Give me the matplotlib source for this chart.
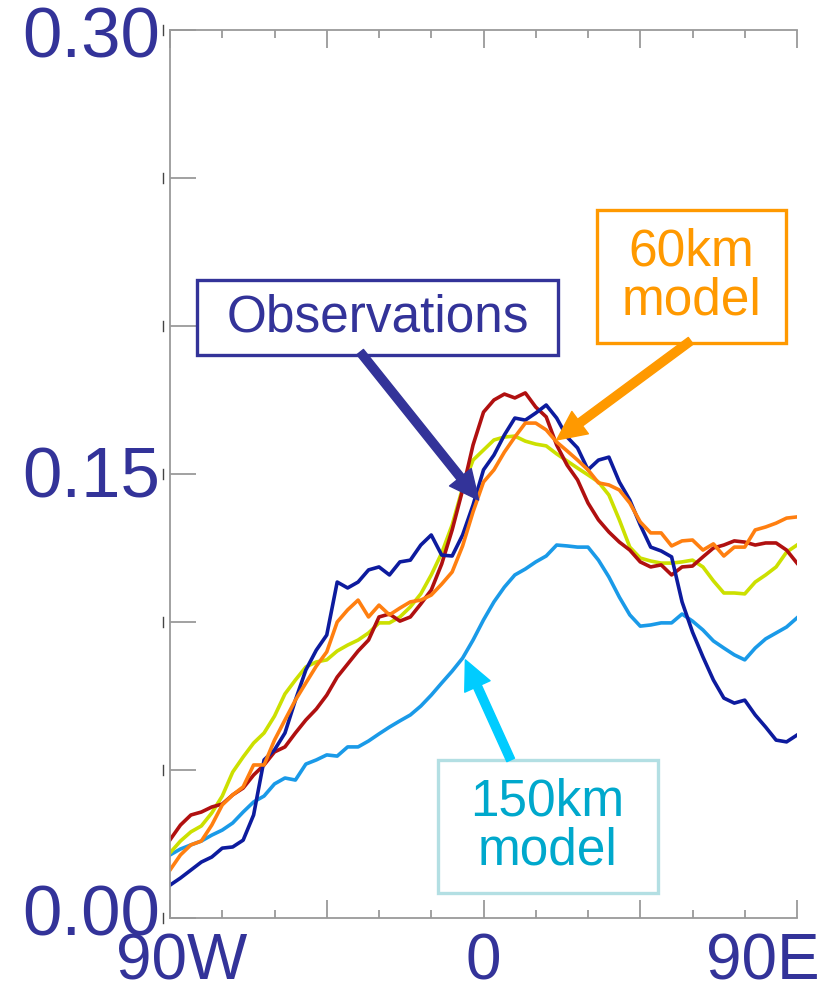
import numpy as np
import matplotlib.pyplot as plt
from matplotlib.patches import Rectangle, FancyArrowPatch

plt.rcParams['font.family'] = ['Liberation Sans', 'DejaVu Sans']

# longitude grid (degrees, west negative), 3 degree steps
lon = np.arange(-90, 91, 3)

obs = [0.0111, 0.0135, 0.0162, 0.0189, 0.0206, 0.0236, 0.0240, 0.0263, 0.0348, 0.0534,
       0.0568, 0.0625, 0.0736, 0.0838, 0.0905, 0.0956, 0.1135, 0.1115, 0.1135, 0.1176,
       0.1186, 0.1159, 0.1203, 0.1209, 0.1260, 0.1294, 0.1226, 0.1223, 0.1294, 0.1395,
       0.1514, 0.1564, 0.1632, 0.1689, 0.1682, 0.1706, 0.1733, 0.1689, 0.1625, 0.1588,
       0.1514, 0.1547, 0.1557, 0.1473, 0.1412, 0.1328, 0.1253, 0.1240, 0.1220, 0.1068,
       0.0966, 0.0882, 0.0804, 0.0743, 0.0726, 0.0736, 0.0686, 0.0645, 0.0601, 0.0595,
       0.0618]

km60 = [0.0162, 0.0213, 0.0247, 0.0260, 0.0314, 0.0382, 0.0416, 0.0443, 0.0517, 0.0517,
        0.0601, 0.0669, 0.0736, 0.0794, 0.0851, 0.0899, 0.1000, 0.1041, 0.1074, 0.1017,
        0.1057, 0.1024, 0.1047, 0.1068, 0.1074, 0.1091, 0.1128, 0.1169, 0.1257, 0.1372,
        0.1473, 0.1514, 0.1574, 0.1625, 0.1672, 0.1672, 0.1649, 0.1608, 0.1578, 0.1547,
        0.1514, 0.1470, 0.1463, 0.1446, 0.1402, 0.1338, 0.1301, 0.1301, 0.1257, 0.1274,
        0.1277, 0.1243, 0.1264, 0.1223, 0.1253, 0.1253, 0.1311, 0.1321, 0.1334, 0.1351,
        0.1355]

km150 = [0.0213, 0.0233, 0.0247, 0.0260, 0.0280, 0.0297, 0.0321, 0.0358, 0.0392, 0.0412,
         0.0453, 0.0473, 0.0466, 0.0520, 0.0534, 0.0551, 0.0547, 0.0578, 0.0578, 0.0598,
         0.0622, 0.0645, 0.0666, 0.0686, 0.0716, 0.0753, 0.0794, 0.0834, 0.0878, 0.0939,
         0.1007, 0.1068, 0.1118, 0.1159, 0.1179, 0.1203, 0.1223, 0.1260, 0.1257, 0.1253,
         0.1253, 0.1209, 0.1152, 0.1084, 0.1024, 0.0986, 0.0990, 0.0997, 0.0997, 0.1027,
         0.1003, 0.0973, 0.0936, 0.0912, 0.0889, 0.0872, 0.0912, 0.0943, 0.0963, 0.0983,
         0.1014]

run_red = [0.0264, 0.0314, 0.0348, 0.0358, 0.0375, 0.0385, 0.0416, 0.0439, 0.0483, 0.0517,
           0.0561, 0.0578, 0.0625, 0.0669, 0.0706, 0.0753, 0.0814, 0.0858, 0.0902, 0.0939,
           0.1017, 0.1027, 0.1003, 0.1017, 0.1061, 0.1108, 0.1196, 0.1311, 0.1446, 0.1598,
           0.1709, 0.1750, 0.1770, 0.1757, 0.1774, 0.1726, 0.1693, 0.1598, 0.1530, 0.1480,
           0.1402, 0.1345, 0.1304, 0.1270, 0.1243, 0.1203, 0.1186, 0.1193, 0.1159, 0.1186,
           0.1189, 0.1220, 0.1250, 0.1260, 0.1274, 0.1270, 0.1260, 0.1267, 0.1267, 0.1243,
           0.1199]

run_yellow = [0.0220, 0.0260, 0.0291, 0.0311, 0.0355, 0.0412, 0.0493, 0.0544, 0.0591, 0.0625,
              0.0682, 0.0757, 0.0804, 0.0848, 0.0865, 0.0872, 0.0902, 0.0922, 0.0939, 0.0963,
              0.0997, 0.0997, 0.1017, 0.1051, 0.1095, 0.1159, 0.1233, 0.1328, 0.1453, 0.1547,
              0.1581, 0.1615, 0.1625, 0.1628, 0.1611, 0.1601, 0.1595, 0.1568, 0.1544, 0.1520,
              0.1497, 0.1473, 0.1429, 0.1345, 0.1253, 0.1216, 0.1206, 0.1199, 0.1199, 0.1203,
              0.1209, 0.1186, 0.1139, 0.1098, 0.1098, 0.1095, 0.1135, 0.1159, 0.1186, 0.1236,
              0.1260]

y_ticklabels = ['0.30', '0.15', '0.00']
x_ticklabels = ['90W', '0', '90E']

navy = '#333399'
W, H = 831, 993

fig = plt.figure(figsize=(W / 100, H / 100), dpi=100)
ax = fig.add_axes([170 / W, 1 - 918 / H, (797 - 170) / W, (918 - 30) / H])

lw = 2.6
ax.plot(lon, km150, color='#1a9ae8', lw=lw)
ax.plot(lon, run_yellow, color='#cce000', lw=lw)
ax.plot(lon, run_red, color='#b01010', lw=lw)
ax.plot(lon, obs, color='#0d1b9e', lw=lw)
ax.plot(lon, km60, color='#ff7f10', lw=lw)

ax.set_xlim(-90, 90)
ax.set_ylim(0, 0.30)

grey = '#9a9a9a'
for side in ['left', 'bottom', 'top']:
    ax.spines[side].set_color(grey)
    ax.spines[side].set_linewidth(1.3)
ax.spines['right'].set_visible(False)

ax.set_yticks(np.arange(0, 0.301, 0.05))
ax.set_xticks(np.arange(-90, 91, 45))
ax.set_xticks(np.arange(-90, 91, 15), minor=True)
ax.tick_params(axis='y', which='major', direction='in', length=19, width=1.3,
               color=grey, labelleft=False)
ax.tick_params(axis='x', which='major', direction='in', length=13, width=1.3,
               color=grey, top=True, labelbottom=False)
ax.tick_params(axis='x', which='minor', direction='in', length=6, width=1.3,
               color=grey, top=True)

# small marks left of the y axis
yax = ax.get_yaxis_transform()
for v in np.arange(0, 0.301, 0.05):
    ax.plot([-0.011, -0.011], [v - 0.0018, v + 0.0018], transform=yax,
            color='#444444', lw=1.0, clip_on=False)

# large axis labels
for lab, yb in zip(y_ticklabels, [58, 497, 935]):
    fig.text(160 / W, 1 - yb / H, lab, ha='right', va='baseline',
             fontsize=51, color=navy)
for lab, xc, ha in zip(x_ticklabels, [116, 483, 820], ['left', 'center', 'right']):
    fig.text(xc / W, 1 - 980 / H, lab, ha=ha, va='baseline', fontsize=46, color=navy)


def label_box(x0, x1, y0, y1, text, tcolor, ecolor):
    ax.add_patch(Rectangle((x0, y0), x1 - x0, y1 - y0, fill=True, facecolor='white',
                           edgecolor=ecolor, lw=2.4, zorder=5))
    ax.text((x0 + x1) / 2, (y0 + y1) / 2, text, ha='center', va='center',
            fontsize=37, color=tcolor, linespacing=1.0, zorder=6)


def arrow(start, tip, color):
    ax.add_patch(FancyArrowPatch(start, tip, mutation_scale=20, color=color,
                                 arrowstyle='simple,head_length=1.05,head_width=1.0,tail_width=0.3',
                                 shrinkA=0, shrinkB=0, zorder=7))


label_box(-82.2, 21.3, 0.1902, 0.2155, 'Observations', navy, navy)
arrow((-35.4, 0.1912), (-1.4, 0.1412), navy)

label_box(32.5, 86.8, 0.1943, 0.2392, '60km\nmodel', '#ff9900', '#ff9900')
arrow((59.5, 0.1950), (21.0, 0.1615), '#ff9900')

label_box(-13.2, 50.0, 0.0084, 0.0534, '150km\nmodel', '#00a8cc', '#b3dfe3')
arrow((7.8, 0.0534), (-5.2, 0.0872), '#00ccff')

fig.savefig('out.png', dpi=100)
